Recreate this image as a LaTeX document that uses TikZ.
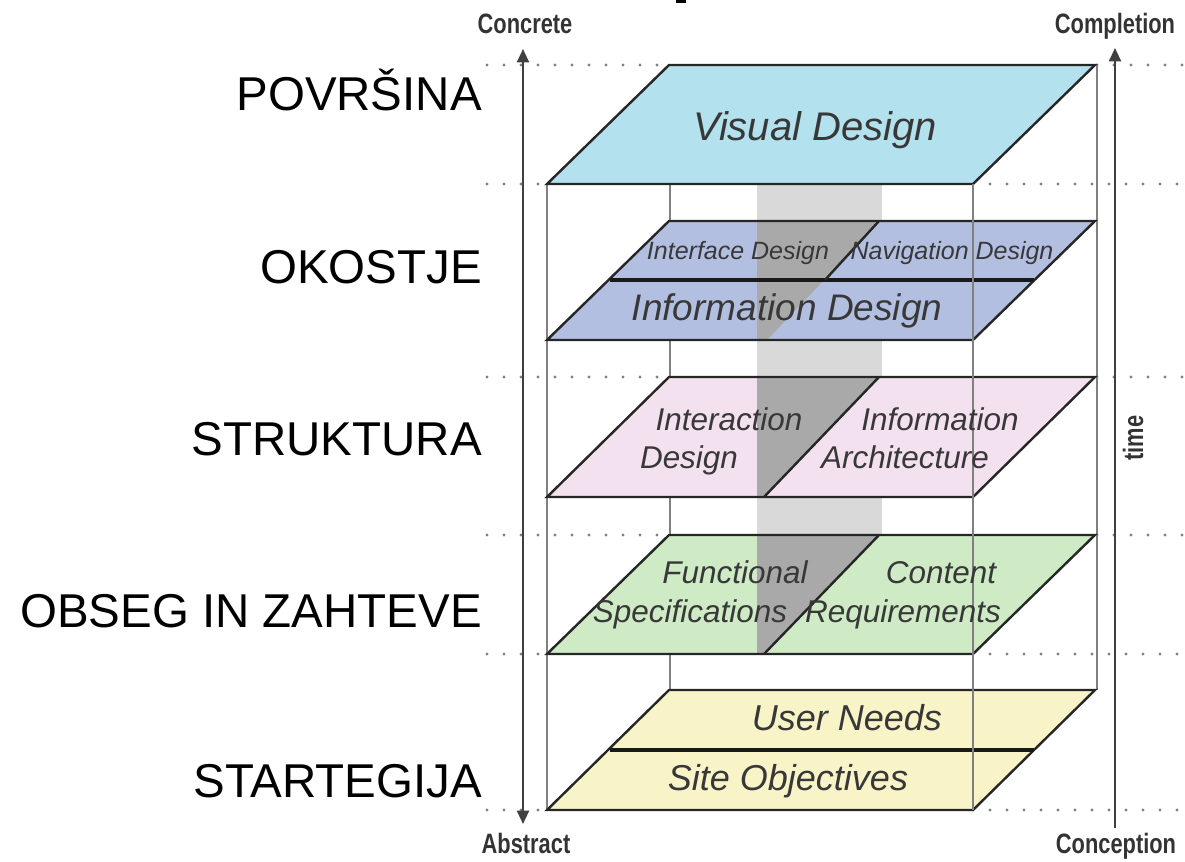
\documentclass[tikz,border=0pt]{standalone}
\usepackage{fontspec}
\setmainfont{Liberation Sans}
\newfontfamily\axisfont[FakeStretch=0.78]{Liberation Sans}
\usetikzlibrary{arrows.meta}

\definecolor{visualblue}{HTML}{B3E1EE}
\definecolor{skeletonblue}{HTML}{B3BFE0}
\definecolor{structpink}{HTML}{F3E1EF}
\definecolor{scopegreen}{HTML}{CEEBC5}
\definecolor{strategyyellow}{HTML}{F8F4C8}
\definecolor{columngray}{HTML}{D9D9D9}
\definecolor{columndark}{HTML}{A9A9A9}

\begin{document}
\begin{tikzpicture}[x=0.75pt,y=-0.75pt,
  planeedge/.style={draw=black!85,line width=1.8pt,line join=miter},
  splitedge/.style={draw=black!90,line width=2.4pt},
  guide/.style={draw=black!50,line width=1.1pt},
  dotline/.style={draw=black!50,line width=2.4pt,line cap=round,dash pattern=on 0pt off 12.75pt},
  axisline/.style={draw=black!75,line width=1.5pt},
  axishead/.tip={Triangle[length=10pt,width=9pt]},
  levellabel/.style={anchor=base east,inner sep=0pt,font=\fontsize{35.6}{40}\selectfont},
  axislabel/.style={anchor=base,inner sep=0pt,text=black!80,font=\axisfont\bfseries\fontsize{21}{24}\selectfont},
  planetext/.style={anchor=base,inner sep=0pt,text=black!78,font=\itshape\fontsize{#1}{#1}\selectfont},
]
\useasboundingbox (0,0) rectangle (1185,861);

% cut-off mark at the top edge
\fill[black] (676,0) rectangle (686,2.5);

% shaded column running through the upper planes
\fill[columngray] (757,184) rectangle (882,535);

% rear guide lines
\draw[guide] (670,184) -- (670,690);
\draw[guide] (547,184) -- (547,810);
\draw[guide] (1097,65) -- (1097,690);

% dotted level lines
\foreach \y/\l/\r in {65/669/1097, 184/547/973, 377/669/1097, 535/669/1097, 654/547/973, 810/547/973}{
  \draw[dotline] (487,\y) -- (\l,\y);
  \draw[dotline] (\r,\y) -- (1185,\y);
}

% plane fills
\fill[visualblue] (669,65) -- (1095,65) -- (973,184) -- (547,184) -- cycle;
\fill[skeletonblue] (669,221) -- (1095,221) -- (973,340) -- (547,340) -- cycle;
\fill[structpink] (669,377) -- (1095,377) -- (973,497) -- (547,497) -- cycle;
\fill[scopegreen] (669,535) -- (1095,535) -- (973,654) -- (547,654) -- cycle;
\fill[strategyyellow] (669,690) -- (1095,690) -- (973,810) -- (547,810) -- cycle;

% column where it crosses the planes
\fill[columndark] (757,221) -- (879,221) -- (825,280) -- (757,280) -- cycle;
\fill[columndark] (757,280) -- (824,280) -- (767,340) -- (757,340) -- cycle;
\fill[columndark] (757,377) -- (879,377) -- (764,497) -- (757,497) -- cycle;
\fill[columndark] (757,535) -- (879,535) -- (764,654) -- (757,654) -- cycle;

% plane outlines
\draw[planeedge] (669,65) -- (1095,65) -- (973,184) -- (547,184) -- cycle;
\draw[planeedge] (669,221) -- (1095,221) -- (973,340) -- (547,340) -- cycle;
\draw[planeedge] (669,377) -- (1095,377) -- (973,497) -- (547,497) -- cycle;
\draw[planeedge] (669,535) -- (1095,535) -- (973,654) -- (547,654) -- cycle;
\draw[planeedge] (669,690) -- (1095,690) -- (973,810) -- (547,810) -- cycle;

% splits inside the planes
\draw[splitedge] (610,280) -- (1034,280);
\draw[planeedge] (879,221) -- (825,280);
\draw[planeedge] (879,377) -- (764,497);
\draw[planeedge] (879,535) -- (764,654);
\draw[splitedge] (610,750) -- (1034,750);

% front guide line
\draw[guide] (973,184) -- (973,810);

% axes
\coordinate (concreteEnd) at (523,49);
\coordinate (abstractEnd) at (523,824);
\coordinate (completionEnd) at (1115,48);
\coordinate (conceptionEnd) at (1115,828);
\draw[axisline,axishead-axishead] (abstractEnd) -- (concreteEnd);
\draw[axisline,-axishead] (conceptionEnd) -- (completionEnd);

\node[axislabel] (concrete) at (525,33) {Concrete};
\node[axislabel] (abstract) at (526,853) {Abstract};
\node[axislabel] (completion) at (1115,33) {Completion};
\node[axislabel] (conception) at (1116,853) {Conception};
\node[axislabel,anchor=center,rotate=90] (time) at (1133,438) {time};

% level names
\node[levellabel] (surface) at (482,110) {POVRŠINA};
\node[levellabel] (skeleton) at (482,283) {OKOSTJE};
\node[levellabel] (structure) at (482,455) {STRUKTURA};
\node[levellabel] (scope) at (482,627) {OBSEG IN ZAHTEVE};
\node[levellabel] (strategy) at (482,797) {STARTEGIJA};

% plane texts
\node[planetext={30}] (visual) at (815,140) {Visual Design};
\node[planetext={18.75}] (interface) at (738,259) {Interface Design};
\node[planetext={18.75}] (navigation) at (952,259) {Navigation Design};
\node[planetext={27.75}] (infodesign) at (787,320) {Information Design};
\node[planetext={23.6}] (interactionA) at (729,430) {Interaction};
\node[planetext={23.6}] (interactionB) at (689,468) {Design};
\node[planetext={23.6}] (infoarchA) at (940,430) {Information};
\node[planetext={23.6}] (infoarchB) at (905,468) {Architecture};
\node[planetext={23.6}] (functionalA) at (735,583) {Functional};
\node[planetext={23.6}] (functionalB) at (690,622) {Specifications};
\node[planetext={23.6}] (contentA) at (941,583) {Content};
\node[planetext={23.6}] (contentB) at (903,622) {Requirements};
\node[planetext={27}] (userneeds) at (847,730) {User Needs};
\node[planetext={27}] (siteobj) at (788,790) {Site Objectives};
\end{tikzpicture}
\end{document}
